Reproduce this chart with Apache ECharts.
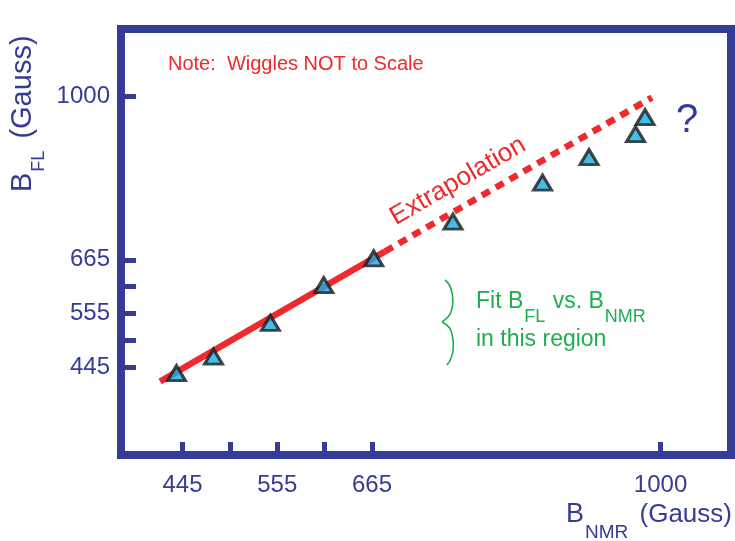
<!DOCTYPE html>
<html>
<head>
<meta charset="utf-8">
<script src="https://cdn.jsdelivr.net/npm/echarts@6/dist/echarts.min.js"></script>
<style>
  html, body { margin: 0; padding: 0; background: #fff; }
  #chart { width: 735px; height: 541px; }
</style>
</head>
<body>
<div id="chart"></div>
<script>
// Measured field pairs: NMR probe (x) vs. fluxgate (y), in Gauss
const bNMR = [438, 481, 547, 609, 667, 759, 863, 917, 971, 982];
const bFL  = [433, 467, 536, 613, 668, 743, 823, 875, 922, 957];

// Straight-line fit over the low-field points, and its extrapolation upward
const fitLine    = [[419, 416], [680, 682]];
const extrapLine = [[680, 682], [990, 997]];

// Axis ticks (all) and the ticks that carry a label
const xTickValues  = [445, 500, 555, 610, 665, 1000];
const xLabelValues = [445, 555, 665, 1000];
const yTickValues  = [445, 500, 555, 610, 665, 1000];
const yLabelValues = [445, 555, 665, 1000];

const NAVY  = '#363c96';
const RED   = '#ee2a2e';
const GREEN = '#1fae50';
const CYAN  = '#16abe2';
const FAM   = '"Liberation Sans", Arial, Helvetica, sans-serif';

// Lay out a run of text pieces on a common baseline (x = 0, y = 0),
// letting subscripts drop below it; `gap` adds extra space after a piece.
const measureCtx = document.createElement('canvas').getContext('2d');
function textRun(pieces, color) {
  let x = 0;
  return pieces.map(p => {
    const font = p.size + 'px ' + FAM;
    measureCtx.font = font;
    const el = {
      type: 'text',
      x: x,
      y: (p.drop || 0) - 0.35 * p.size,
      style: { text: p.text, font: font, fill: color, align: 'left', verticalAlign: 'middle' }
    };
    x += measureCtx.measureText(p.text).width + (p.gap || 0);
    return el;
  });
}

// Wavy brace beside the fitted region, as cubic segments [x1,y1,c1x,c1y,c2x,c2y,x2,y2]
const braceSegments = [
  [445, 280, 452, 285, 455, 300, 451, 312],
  [451, 312, 449, 318, 444, 320, 442, 322],
  [442, 322, 446, 324, 451, 327, 452, 334],
  [452, 334, 454, 343, 455, 355, 447, 365]
];
const braceGraphics = braceSegments.map(s => ({
  type: 'bezierCurve',
  shape: { x1: s[0], y1: s[1], cpx1: s[2], cpy1: s[3], cpx2: s[4], cpy2: s[5], x2: s[6], y2: s[7] },
  style: { stroke: GREEN, lineWidth: 1.6, fill: null }
}));

const plainNumber = v => String(v);

const chart = echarts.init(document.getElementById('chart'), null, { renderer: 'canvas' });

chart.setOption({
  animation: false,
  backgroundColor: '#fff',
  grid: {
    left: 121, right: 4, top: 29, bottom: 86,
    show: true,
    borderColor: NAVY,
    borderWidth: 8,
    backgroundColor: 'transparent'
  },
  xAxis: {
    type: 'value',
    min: 373.6,
    max: 1081.8,
    axisLine: { show: false },
    splitLine: { show: false },
    axisTick: {
      show: true, inside: true, length: 13,
      customValues: xTickValues,
      lineStyle: { color: NAVY, width: 5 }
    },
    axisLabel: {
      customValues: xLabelValues,
      formatter: plainNumber,
      color: NAVY, fontSize: 24, fontFamily: FAM, margin: 18
    }
  },
  yAxis: {
    type: 'value',
    min: 265.6,
    max: 1137.1,
    axisLine: { show: false },
    splitLine: { show: false },
    axisTick: {
      show: true, inside: true, length: 15,
      customValues: yTickValues,
      lineStyle: { color: NAVY, width: 5 }
    },
    axisLabel: {
      customValues: yLabelValues,
      formatter: plainNumber,
      color: NAVY, fontSize: 24, fontFamily: FAM, margin: 11
    }
  },
  series: [
    {
      name: 'fit',
      type: 'line',
      data: fitLine,
      symbol: 'none',
      lineStyle: { color: RED, width: 6.5, cap: 'butt' },
      z: 2
    },
    {
      name: 'extrapolation',
      type: 'line',
      data: extrapLine,
      symbol: 'none',
      lineStyle: { color: RED, width: 6.5, type: [9, 7], cap: 'butt' },
      z: 2
    },
    {
      name: 'measured',
      type: 'scatter',
      data: bNMR.map((x, i) => [x, bFL[i]]),
      symbol: 'triangle',
      symbolSize: [18, 15],
      itemStyle: { color: CYAN, borderColor: '#1b1b1b', borderWidth: 3 },
      z: 5
    }
  ],
  graphic: [
    {
      type: 'text', x: 168, y: 64,
      style: {
        text: 'Note:  Wiggles NOT to Scale',
        font: '20px ' + FAM, fill: RED, align: 'left', verticalAlign: 'middle'
      }
    },
    {
      type: 'text', x: 458, y: 181, rotation: Math.PI / 6,
      style: {
        text: 'Extrapolation',
        font: '26px ' + FAM, fill: RED, align: 'center', verticalAlign: 'middle'
      }
    },
    {
      type: 'text', x: 687, y: 121,
      style: { text: '?', font: '40px ' + FAM, fill: NAVY, align: 'center', verticalAlign: 'middle' }
    },
    ...braceGraphics,
    {
      type: 'group', x: 476, y: 310,
      children: textRun([
        { text: 'Fit B', size: 23, gap: 1 },
        { text: 'FL', size: 18, drop: 13, gap: 1 },
        { text: ' vs. B', size: 23, gap: 1 },
        { text: 'NMR', size: 18, drop: 13 }
      ], GREEN)
    },
    {
      type: 'group', x: 476, y: 348,
      children: textRun([{ text: 'in this region', size: 23 }], GREEN)
    },
    // axis titles
    {
      type: 'group', x: 566, y: 524,
      children: textRun([
        { text: 'B', size: 27, gap: 1 },
        { text: 'NMR', size: 19, drop: 15, gap: 4 },
        { text: ' (Gauss)', size: 26 }
      ], NAVY)
    },
    {
      type: 'group', x: 33, y: 192, rotation: Math.PI / 2,
      children: textRun([
        { text: 'B', size: 29, gap: 1 },
        { text: 'FL', size: 18, drop: 12, gap: 4 },
        { text: ' (Gauss)', size: 29 }
      ], NAVY)
    }
  ]
});
</script>
</body>
</html>
